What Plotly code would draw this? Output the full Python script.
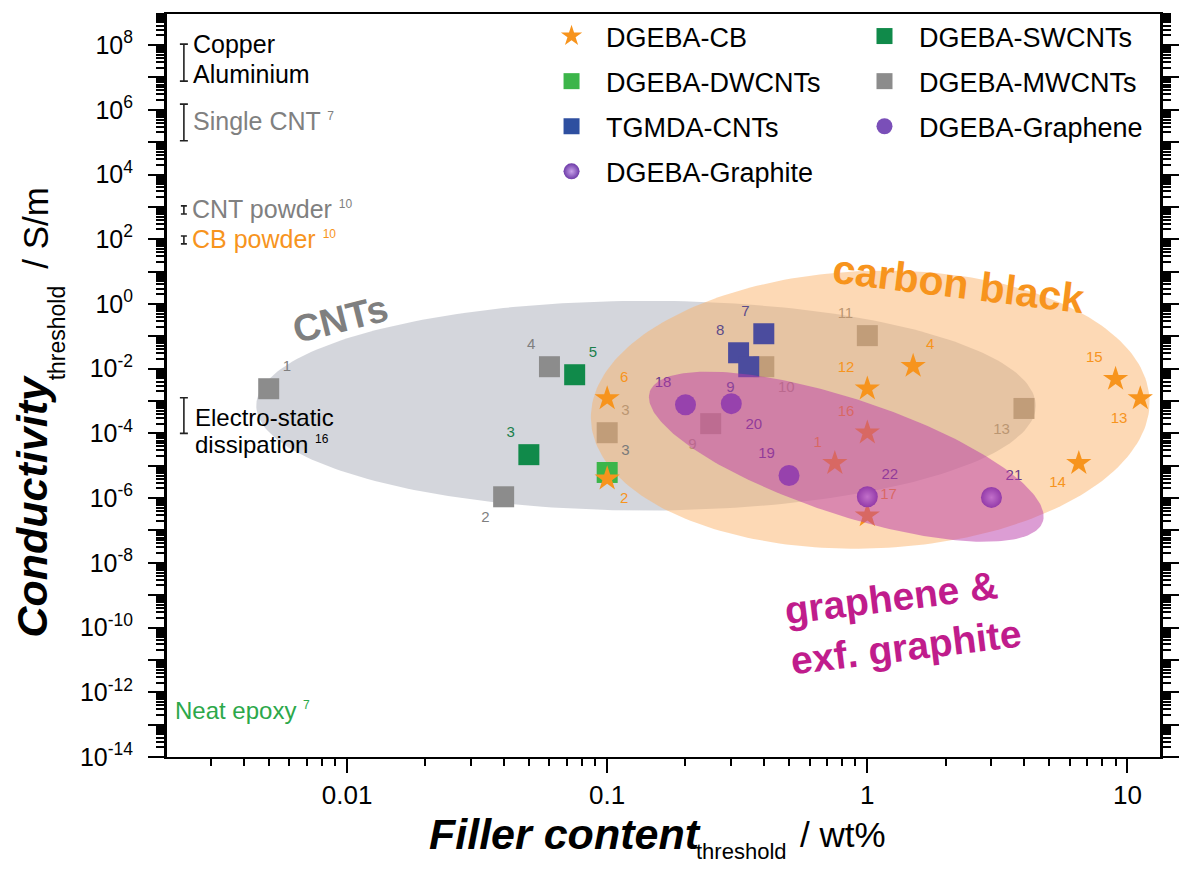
import numpy as np
import plotly.graph_objects as go

FONT = "Liberation Sans, Arial, sans-serif"

# ---------------- data ----------------
cb_x = [0.1, 0.1, 1.0, 1.5, 1.0, 0.75, 1.0, 9.0, 11.2, 6.5]
cb_y = [1.2e-3, 4e-6, 2.4e-3, 1.2e-2, 1.05e-4, 1.2e-5, 2.9e-7, 4.8e-3, 1.2e-3, 1.2e-5]
cb_ref = ["6", "2", "12", "4", "16", "1", "17", "15", "13", "14"]

mw_x = [0.005, 0.04, 0.06, 0.1, 0.25, 0.4, 1.0, 4.0]
mw_y = [2.4e-3, 1.1e-6, 1.15e-2, 1.05e-4, 2e-4, 1.15e-2, 0.105, 5.9e-4]
mw_ref = ["1", "2", "4", "3", "9", "10", "11", "13"]

sw_x = [0.075, 0.05]
sw_y = [6.5e-3, 2.2e-5]
sw_ref = ["5", "3"]

dw_x = [0.1]
dw_y = [6.2e-6]
dw_ref = ["3"]

tg_x = [0.4, 0.32, 0.35]
tg_y = [0.12, 0.031, 0.0115]
tg_ref = ["7", "8", "9"]

gn_x = [0.2, 0.3, 0.5]
gn_y = [7.7e-4, 8.3e-4, 5e-6]
gn_ref = ["18", "20", "19"]

gt_x = [1.0, 3.0]
gt_y = [1.1e-6, 1.05e-6]
gt_ref = ["22", "21"]

# reference conductivity ranges (S/m) drawn as bars on the left
ref_low = [7.7e6, 1.1e5, 6e2, 72, 1e-4]
ref_high = [1.07e8, 1.5e6, 1.07e3, 126, 1.26e-3]
ref_capw = [4, 4, 3, 3, 4]

x_ticks = [0.01, 0.1, 1, 10]
y_exp = list(range(-14, 9))

# ---------------- styles / layout constants ----------------
W, H = 1191, 869
ML, MR, MT, MB = 167, 15, 13, 112
XR = [-2.692, 1.125]
YR = [-14.0, 8.96]
PW, PH = W - ML - MR, H - MT - MB
PX_X = PW / (XR[1] - XR[0])
PX_Y = PH / (YR[1] - YR[0])

cb_pos = ["top right", "bottom right", "top left", "top right", "top left", "top left",
          "top right", "top left", "bottom left", "bottom left"]
mw_pos = ["top right", "bottom left", "top left", "top right", "bottom left", "bottom right",
          "top left", "bottom left"]
sw_pos = ["top right", "top left"]
dw_pos = ["top right"]
tg_pos = ["top left", "top left", "bottom left"]
gn_pos = ["top left", "bottom right", "top left"]
gt_pos = ["top right", "top right"]

C_CB = "#f7941d"
C_SW = "#108a4a"
C_DW = "#3cb54a"
C_TG = "#4b4c9e"
C_TG_LEG = "#2e4fa0"
C_MW = "#8c8c8c"
C_GN = "#7448b0"
C_GN_LEG = "#7a4fb8"
C_GT = "#6d3aa8"

BAR_X = 0.00236


def ellipse(cx, cy, a, b, ang):
    """Ellipse given centre in data units, semi-axes in screen pixels."""
    t = np.linspace(0, 2 * np.pi, 240)
    th = np.deg2rad(ang)
    u = a * np.cos(t) * np.cos(th) - b * np.sin(t) * np.sin(th)
    v = a * np.cos(t) * np.sin(th) + b * np.sin(t) * np.cos(th)
    lx = np.log10(cx) + u / PX_X
    ly = np.log10(cy) - v / PX_Y
    return 10 ** lx, 10 ** ly


fig = go.Figure()


def region(cx, cy, a, b, ang, color):
    ex, ey = ellipse(cx, cy, a, b, ang)
    fig.add_trace(go.Scatter(x=ex, y=ey, mode="lines", fill="toself", fillcolor=color,
                             line=dict(width=0), hoverinfo="skip", showlegend=False))


def pts(x, y, refs, pos, symbol, size, color, tcolor, gradient=None):
    marker = dict(symbol=symbol, size=size, color=color, line=dict(width=0))
    if gradient:
        marker["gradient"] = gradient
    fig.add_trace(go.Scatter(x=x, y=y, mode="markers+text", text=refs, textposition=pos,
                             textfont=dict(family=FONT, size=15, color=tcolor),
                             marker=marker, showlegend=False, cliponaxis=False))


# CNT region (grey)
region(0.141, 7.2e-4, 396, 105, 0, "rgba(204,207,214,0.85)")
pts(mw_x, mw_y, mw_ref, mw_pos, "square", 21, C_MW, "#7f7f7f")
# carbon black region (orange)
region(1.026, 5.4e-4, 284, 139, -2, "rgba(250,175,100,0.48)")
pts(sw_x, sw_y, sw_ref, sw_pos, "square", 21, C_SW, "#1b7f4b")
pts(dw_x, dw_y, dw_ref, dw_pos, "square", 21, C_DW, "#7a7a7a")
pts(tg_x, tg_y, tg_ref, tg_pos, "square", 21, C_TG, "#5b4b8a")
pts(cb_x, cb_y, cb_ref, cb_pos, "star", 19, C_CB, C_CB)
pts(gn_x, gn_y, gn_ref, gn_pos, "circle", 21, C_GN, "#6a3a8a")
pts(gt_x, gt_y, gt_ref, gt_pos, "circle", 21, C_GT, "#6a3a8a",
    gradient=dict(type="radial", color="#c9a3ea"))
# graphene region (magenta) on top
region(0.83, 1.9e-5, 210, 58, 18, "rgba(185,60,170,0.5)")

# reference bars on the left
mid = [np.sqrt(l * h) for l, h in zip(ref_low, ref_high)]
for m, l, h, cw in zip(mid, ref_low, ref_high, ref_capw):
    fig.add_trace(go.Scatter(
        x=[BAR_X], y=[m], mode="markers", marker=dict(size=1, color="rgba(0,0,0,0)"),
        error_y=dict(type="data", symmetric=False, array=[h - m], arrayminus=[m - l],
                     color="#222222", thickness=1.6, width=cw),
        showlegend=False, hoverinfo="skip"))

# legend-only traces
leg = [
    ("DGEBA-CB", "star", C_CB, None, "legend"),
    ("DGEBA-DWCNTs", "square", C_DW, None, "legend"),
    ("TGMDA-CNTs", "square", C_TG_LEG, None, "legend"),
    ("DGEBA-Graphite", "circle", C_GT, dict(type="radial", color="#c9a3ea"), "legend"),
    ("DGEBA-SWCNTs", "square", C_SW, None, "legend2"),
    ("DGEBA-MWCNTs", "square", C_MW, None, "legend2"),
    ("DGEBA-Graphene", "circle", C_GN_LEG, None, "legend2"),
]
for name, sym, col, grad, lg in leg:
    mk = dict(symbol=sym, size=18, color=col, line=dict(width=0))
    if grad:
        mk["gradient"] = grad
    fig.add_trace(go.Scatter(x=[None], y=[None], mode="markers", name=name, marker=mk,
                             legend=lg, legendgroup=name, showlegend=True))


def px(xp):
    return (xp - ML) / PW


def py(yp):
    return (H - MB - yp) / PH


ann = []


def text(t, xp, yp, size, color="black", xanchor="left", angle=0, align="left"):
    ann.append(dict(text=t, x=px(xp), y=py(yp), xref="paper", yref="paper",
                    xanchor=xanchor, yanchor="middle", showarrow=False, textangle=angle,
                    align=align, font=dict(family=FONT, size=size, color=color)))


SUP = "<sup><span style='font-size:12px'>{}</span></sup>"
text("Copper", 191, 43, 25)
text("Aluminium", 191, 73, 25)
text("Single CNT " + SUP.format("7"), 191, 120, 25, "#808080")
text("CNT powder " + SUP.format("10"), 190, 208, 25, "#808080")
text("CB powder " + SUP.format("10"), 190, 238, 25, C_CB)
text("Electro-static", 193, 417, 24)
text("dissipation " + SUP.format("16"), 193, 444, 24)
text("Neat epoxy " + SUP.format("7"), 173, 710, 24, "#2ca84a")

text("<b>CNTs</b>", 343, 318, 38, "#7f7f7f", xanchor="center", angle=-14)
text("<b>carbon black</b>", 971, 283, 41, C_CB, xanchor="center", angle=7)
text("<b>graphene &amp;<br>exf. graphite</b>", 915, 622, 39, "#c01c8c",
     xanchor="center", angle=-7)

# axis titles
text("<b><i>Filler content</i></b>", 431, 834, 43)
text("threshold", 702, 852, 22)
text("/ wt%", 808, 835, 35)
text("<b><i>Conductivity</i></b>", 30, 506, 43, xanchor="center", angle=-90)
text("threshold", 55, 332, 23, xanchor="center", angle=-90)
text("/ S/m", 34, 227, 35, xanchor="center", angle=-90)

minor_x = [m * 10.0 ** e for e in range(-3, 2) for m in range(2, 10)]
minor_y = [m * 10.0 ** e for e in range(-15, 9) for m in range(2, 10)]

fig.update_layout(
    width=W, height=H,
    margin=dict(l=ML, r=MR, t=MT, b=MB),
    paper_bgcolor="white", plot_bgcolor="white",
    font=dict(family=FONT, color="black"),
    annotations=ann,
    xaxis=dict(type="log", range=XR, showgrid=False, zeroline=False,
               showline=True, linecolor="black", linewidth=2, mirror=True,
               ticks="outside", ticklen=14, tickwidth=2, tickcolor="black",
               tickmode="array", tickvals=x_ticks, ticktext=[str(v) for v in x_ticks],
               tickfont=dict(family=FONT, size=26), ticklabelstandoff=0,
               minor=dict(ticks="outside", ticklen=7, tickwidth=1.5, tickcolor="black",
                          tickmode="array", tickvals=minor_x, showgrid=False)),
    yaxis=dict(type="log", range=YR, showgrid=False, zeroline=False,
               showline=True, linecolor="black", linewidth=3, mirror="ticks",
               ticks="outside", ticklen=16, tickwidth=2, tickcolor="black",
               tickmode="array", tickvals=[10.0 ** e for e in y_exp],
               ticktext=[("10<sup>%d</sup>" % e) if e % 2 == 0 else "" for e in y_exp],
               tickfont=dict(family=FONT, size=25), ticklabelstandoff=10,
               minor=dict(ticks="outside", ticklen=8, tickwidth=1.5, tickcolor="black",
                          tickmode="array", tickvals=minor_y, showgrid=False)),
    legend=dict(x=px(543), y=py(11), xanchor="left", yanchor="top",
                bgcolor="rgba(0,0,0,0)", font=dict(family=FONT, size=27),
                itemwidth=59, tracegroupgap=7, itemclick=False),
    legend2=dict(x=px(861), y=py(11), xanchor="left", yanchor="top",
                 bgcolor="rgba(0,0,0,0)", font=dict(family=FONT, size=27),
                 itemwidth=59, tracegroupgap=7, itemclick=False),
)

fig.write_html("out.html")
